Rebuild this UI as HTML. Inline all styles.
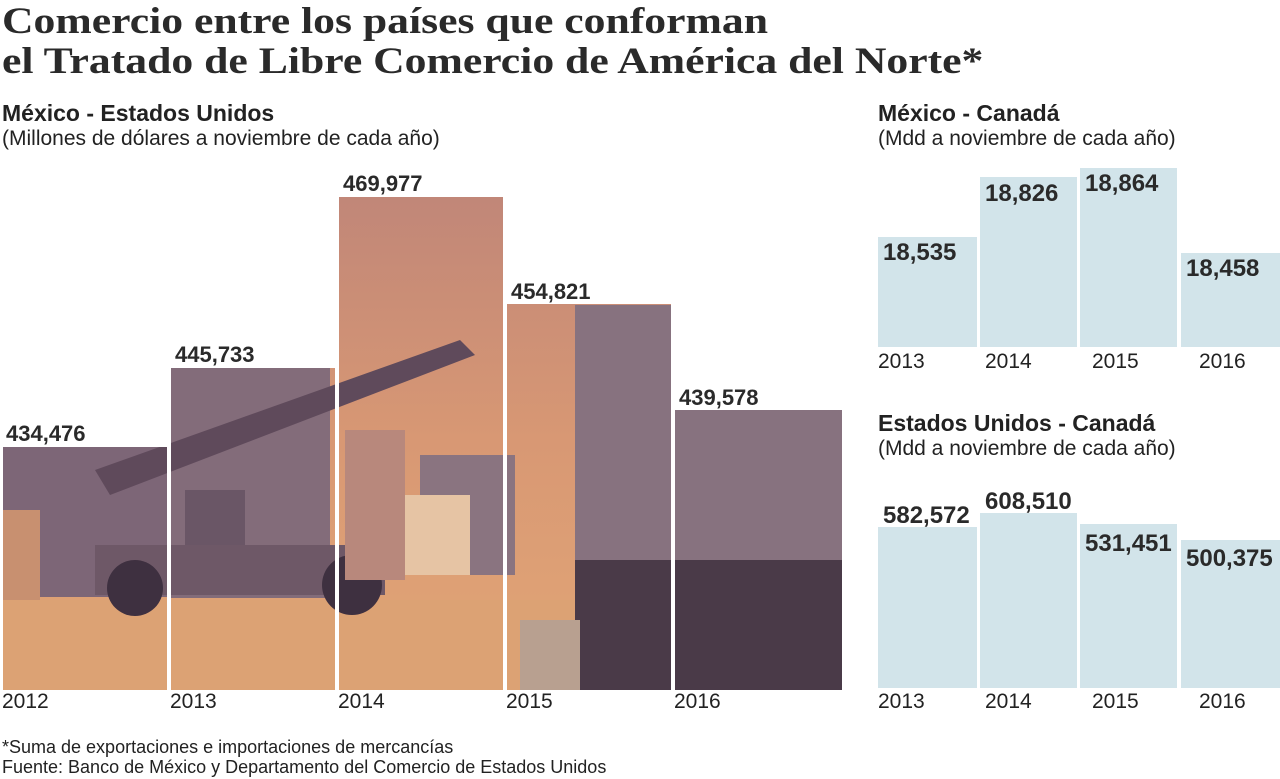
<!DOCTYPE html>
<html><head><meta charset="utf-8"><style>
body{margin:0;width:1280px;height:779px;background:#fff;overflow:hidden;position:relative;font-family:"Liberation Sans",sans-serif;color:#222}
.t{position:absolute;left:2px;font-family:"Liberation Serif",serif;font-weight:bold;font-size:37px;line-height:40px;color:#2a2a2a;transform:scaleX(1.18);transform-origin:left top;white-space:nowrap}
.a{position:absolute;white-space:nowrap}
.h{font-weight:bold;font-size:23px}
.s{font-size:21px}
.v{font-weight:bold;font-size:22px;color:#2a2a2a}
.w{font-weight:bold;font-size:24px;color:#2a2a2a}
.y{font-size:21px}
.b{position:absolute;background:#d2e4ea}
</style></head><body>
<div class="t" style="top:2px">Comercio entre los países que conforman<br>el Tratado de Libre Comercio de América del Norte*</div>
<div class="a h" style="left:2px;top:100px">México - Estados Unidos</div>
<div class="a s" style="left:2px;top:127px">(Millones de dólares a noviembre de cada año)</div>
<div class="a h" style="left:878px;top:100px">México - Canadá</div>
<div class="a s" style="left:878px;top:127px">(Mdd a noviembre de cada año)</div>
<div class="a h" style="left:878px;top:410px">Estados Unidos - Canadá</div>
<div class="a s" style="left:878px;top:437px">(Mdd a noviembre de cada año)</div>

<svg style="position:absolute;left:0;top:0" width="842" height="690">
<defs><linearGradient id="sky" x1="0" y1="0" x2="0" y2="1"><stop offset="0" stop-color="#c08678"/><stop offset="0.5" stop-color="#d89874"/><stop offset="1" stop-color="#e2a676"/></linearGradient></defs>
<rect x="0" y="190" width="842" height="500" fill="url(#sky)"/>
<rect x="0" y="600" width="842" height="90" fill="#dca274"/>
<rect x="0" y="447" width="330" height="150" fill="#7d6677"/>
<rect x="170" y="368" width="160" height="230" fill="#836c7a"/>
<rect x="0" y="510" width="40" height="90" fill="#c89070"/>
<polygon points="95,470 460,340 475,355 110,495" fill="#5f4a5b"/>
<rect x="95" y="545" width="290" height="50" fill="#6e5867"/>
<circle cx="135" cy="588" r="28" fill="#3e3040"/><circle cx="352" cy="585" r="30" fill="#3e3040"/>
<rect x="185" y="490" width="60" height="55" fill="#6a5666"/>
<rect x="420" y="455" width="95" height="120" fill="#8a7480"/>
<rect x="405" y="495" width="65" height="80" fill="#e6c4a4"/>
<rect x="345" y="430" width="60" height="150" fill="#b8887c"/>
<rect x="575" y="305" width="267" height="300" fill="#87727f"/>
<rect x="575" y="560" width="267" height="130" fill="#4a3a48"/>
<rect x="520" y="620" width="60" height="70" fill="#b8a090"/>
<rect x="0" y="180" width="168" height="267" fill="#fff"/>
<rect x="168" y="180" width="170" height="188" fill="#fff"/>
<rect x="338" y="180" width="166" height="17" fill="#fff"/>
<rect x="504" y="180" width="168" height="124" fill="#fff"/>
<rect x="672" y="180" width="170" height="230" fill="#fff"/>
<rect x="0" y="180" width="3" height="510" fill="#fff"/>
<rect x="167" y="180" width="4" height="510" fill="#fff"/>
<rect x="335" y="180" width="4" height="510" fill="#fff"/>
<rect x="503" y="180" width="4" height="510" fill="#fff"/>
<rect x="671" y="180" width="4" height="510" fill="#fff"/>
</svg>
<div class="a v" style="left:6px;top:421px">434,476</div>
<div class="a v" style="left:175px;top:342px">445,733</div>
<div class="a v" style="left:343px;top:171px">469,977</div>
<div class="a v" style="left:511px;top:279px">454,821</div>
<div class="a v" style="left:679px;top:385px">439,578</div>
<div class="a y" style="left:2px;top:690px">2012</div>
<div class="a y" style="left:170px;top:690px">2013</div>
<div class="a y" style="left:338px;top:690px">2014</div>
<div class="a y" style="left:506px;top:690px">2015</div>
<div class="a y" style="left:674px;top:690px">2016</div>

<div class="b" style="left:878px;top:237px;width:99px;height:110px"></div>
<div class="b" style="left:980px;top:177px;width:97px;height:170px"></div>
<div class="b" style="left:1080px;top:168px;width:97px;height:179px"></div>
<div class="b" style="left:1181px;top:253px;width:99px;height:94px"></div>
<div class="a w" style="left:883px;top:239px">18,535</div>
<div class="a w" style="left:985px;top:180px">18,826</div>
<div class="a w" style="left:1085px;top:170px">18,864</div>
<div class="a w" style="left:1186px;top:255px">18,458</div>
<div class="a y" style="left:878px;top:350px">2013</div>
<div class="a y" style="left:985px;top:350px">2014</div>
<div class="a y" style="left:1092px;top:350px">2015</div>
<div class="a y" style="left:1199px;top:350px">2016</div>

<div class="b" style="left:878px;top:527px;width:99px;height:161px"></div>
<div class="b" style="left:980px;top:513px;width:97px;height:175px"></div>
<div class="b" style="left:1080px;top:524px;width:97px;height:164px"></div>
<div class="b" style="left:1181px;top:540px;width:99px;height:148px"></div>
<div class="a w" style="left:883px;top:502px">582,572</div>
<div class="a w" style="left:985px;top:488px">608,510</div>
<div class="a w" style="left:1085px;top:530px">531,451</div>
<div class="a w" style="left:1186px;top:545px">500,375</div>
<div class="a y" style="left:878px;top:690px">2013</div>
<div class="a y" style="left:985px;top:690px">2014</div>
<div class="a y" style="left:1092px;top:690px">2015</div>
<div class="a y" style="left:1199px;top:690px">2016</div>

<div class="a" style="left:2px;top:737px;font-size:18px">*Suma de exportaciones e importaciones de mercancías</div>
<div class="a" style="left:2px;top:757px;font-size:18px">Fuente: Banco de México y Departamento del Comercio de Estados Unidos</div>
</body></html>
